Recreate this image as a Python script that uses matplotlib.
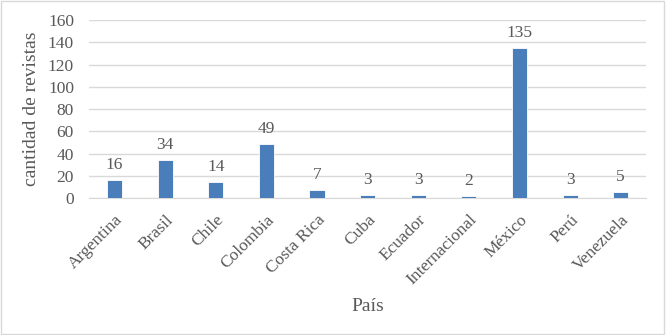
import matplotlib
matplotlib.use("Agg")
import matplotlib.pyplot as plt
from matplotlib.patches import Rectangle

# data
paises = ["Argentina", "Brasil", "Chile", "Colombia", "Costa Rica", "Cuba",
          "Ecuador", "Internacional", "México", "Perú", "Venezuela"]
revistas = [16, 34, 14, 49, 7, 3, 3, 2, 135, 3, 5]
yticks = [0, 20, 40, 60, 80, 100, 120, 140, 160]

plt.rcParams["font.family"] = ["Liberation Serif", "DejaVu Serif"]
text_col = "#595959"

fig = plt.figure(figsize=(6.66, 3.35), dpi=100)
ax = fig.add_axes([0.134, 0.409, 0.836, 0.531])

x = range(len(paises))
bars = ax.bar(x, revistas, width=0.3, color="#4a7ebb", edgecolor="white",
              linewidth=0.6, zorder=3)
for xi, v in zip(x, revistas):
    ax.annotate(str(v), (xi, v), xytext=(0, 5), textcoords="offset points",
                ha="center", va="bottom", fontsize=12.5, color=text_col)

ax.set_ylim(0, 160)
ax.set_xlim(-0.5, len(paises) - 0.5)
ax.set_yticks(yticks)
ax.yaxis.grid(True, color="#d9d9d9", linewidth=1, zorder=0)
for s in ["top", "right", "left"]:
    ax.spines[s].set_visible(False)
ax.spines["bottom"].set_color("#d9d9d9")
ax.tick_params(axis="both", length=0, labelsize=12.5, colors=text_col)
ax.tick_params(axis="y", pad=11)
ax.tick_params(axis="x", pad=10)
ax.set_xticks(list(x))
ax.set_xticklabels(paises, rotation=45, ha="right", rotation_mode="anchor")

ax.set_ylabel("cantidad de revistas", fontsize=14, color=text_col, labelpad=6)
ax.set_xlabel("País", fontsize=14, color=text_col, labelpad=7)

# light frame round the chart
fig.patches.append(Rectangle((0.002, 0.003), 0.995, 0.993, transform=fig.transFigure,
                             fill=False, edgecolor="#d9d9d9", linewidth=1))

fig.savefig("out.png", dpi=100)
